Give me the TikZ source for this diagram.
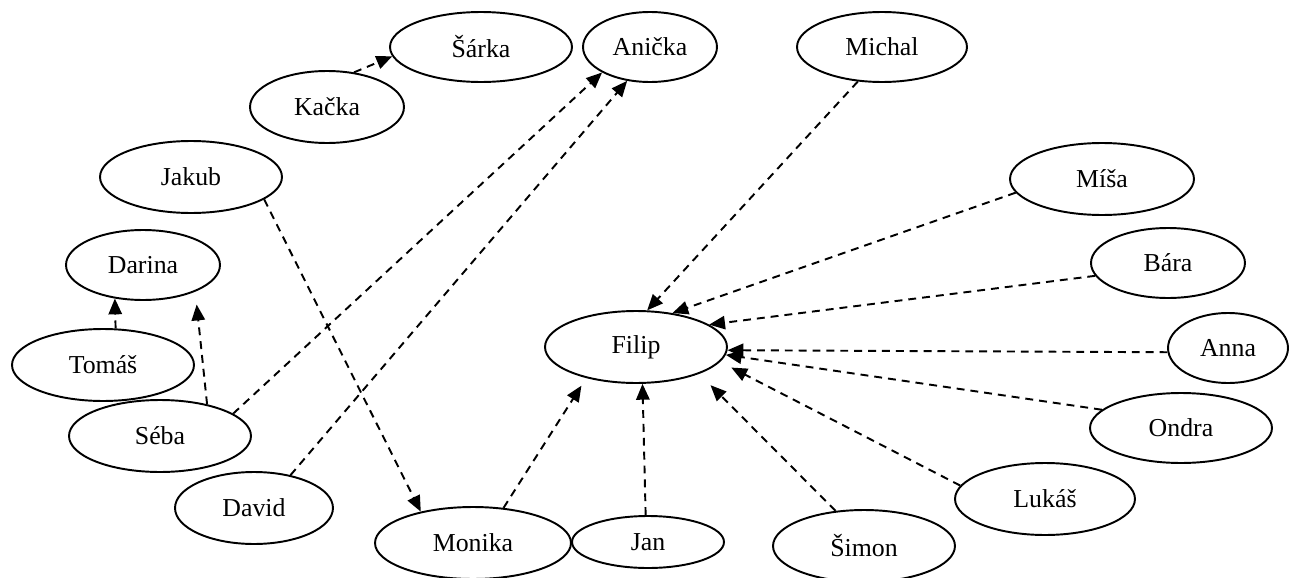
\documentclass[tikz,border=0pt]{standalone}
\usepackage{fontspec}
\setmainfont{Liberation Serif}
\usetikzlibrary{shapes.geometric, arrows.meta}

\begin{document}
\begin{tikzpicture}[
            x=0.02cm, y=-0.02cm,
            % Style for the people (ellipses)
            person/.style={draw, ellipse, line width=1.1pt, inner sep=0,
                minimum width=3.64cm, minimum height=1.44cm,
                font=\fontsize{14.7}{17}\selectfont},
            % Style for the dashed arrows between people
            link/.style={line width=1.1pt, dash pattern=on 4.5pt off 3.4pt,
                -{Triangle[length=9pt, width=7.6pt]}}
        ]
        \useasboundingbox (0,0) rectangle (1289,578);

        % --- Top row ---
        \node[person, minimum height=1.4cm] (sarka) at (481,47) {Šárka};
        \node[person, minimum width=2.68cm, minimum height=1.4cm] (anicka) at (650,47) {Anička};
        \node[person, minimum width=3.4cm, minimum height=1.4cm] (michal) at (882,47) {Michal};
        \node[person, minimum width=3.08cm] (kacka) at (327,107) {Kačka};

        % --- Left group ---
        \node[person] (jakub) at (191,177) {Jakub};
        \node[person, minimum width=3.08cm, minimum height=1.4cm] (darina) at (143,265) {Darina};
        \node[person] (tomas) at (103,365) {Tomáš};
        \node[person] (seba) at (160,436) {Séba};
        \node[person, minimum width=3.16cm] (david) at (254,508) {David};

        % --- Bottom row ---
        \node[person, minimum width=3.92cm] (monika) at (473,543) {Monika};
        \node[person, minimum width=3.04cm, minimum height=1.04cm] (jan) at (648,542) {Jan};
        \node[person] (simon) at (864,546) {Šimon};

        % --- Centre and right group ---
        \node[person] (filip) at (636,347) {Filip};
        \node[person, minimum width=3.68cm] (misa) at (1102,179) {Míša};
        \node[person, minimum width=3.08cm, minimum height=1.4cm] (bara) at (1168,263) {Bára};
        \node[person, minimum width=2.4cm, minimum height=1.4cm] (anna) at (1228,348) {Anna};
        \node[person, minimum height=1.4cm] (ondra) at (1181,428) {Ondra};
        \node[person, minimum width=3.6cm] (lukas) at (1045,499) {Lukáš};

        % --- Arrows on the left side ---
        \draw[link] (kacka.52) -- (sarka.186);
        \draw[link] (seba.17) -- (anicka.208);
        \draw[link] (david.42) -- (anicka.236);
        \draw[link] (jakub.343) -- (monika.149);
        \draw[link] (tomas.71) -- (darina.230);
        \draw[link, shorten >=0.26cm] (seba.34) -- (darina.333);

        % --- Arrows pointing to Filip ---
        \foreach \src/\a/\b/\s in {michal/235/73/0, misa/189/43/0, bara/190/17/0,
                anna/184/358/0, ondra/167/355/0, lukas/171/350/0.25,
                simon/129/337/0.32, jan/95/280/0, monika/49/212/0.18} {
            \draw[link, shorten >=\s cm] (\src.\a) -- (filip.\b);
        }

        \end{tikzpicture}
\end{document}
